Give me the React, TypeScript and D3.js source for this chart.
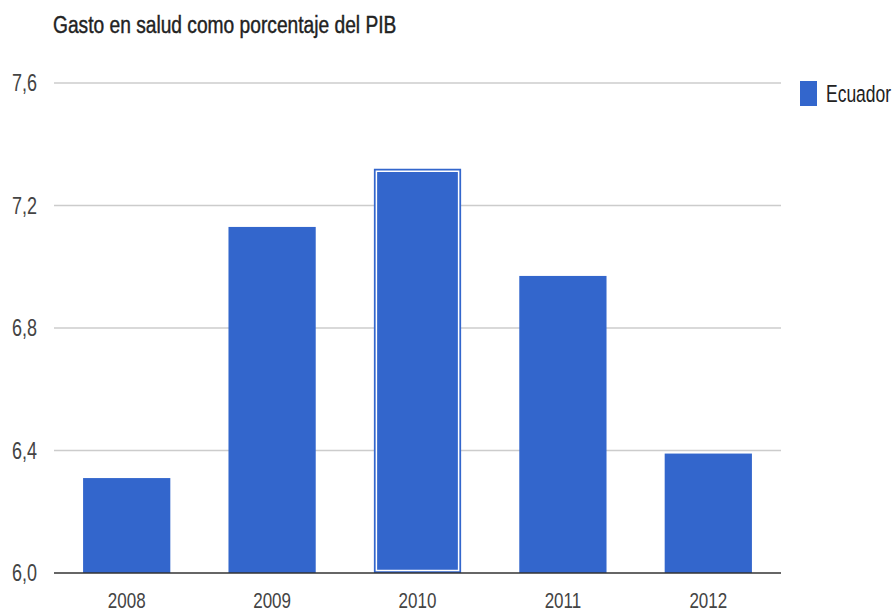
import React from "react";
import * as d3 from "d3";

const years = ["2008", "2009", "2010", "2011", "2012"];
const values = [6.31, 7.13, 7.32, 6.97, 6.39];
const yTicks = [6.0, 6.4, 6.8, 7.2, 7.6];
const title = "Gasto en salud como porcentaje del PIB";
const seriesName = "Ecuador";

const W = 893;
const H = 614;
const left = 54;
const right = 781;
const top = 83;
const bottom = 573;
const BAR = "#3366cc";
const FONT = "'Liberation Sans', Arial, sans-serif";

export default function App() {
  const x = d3.scaleBand<string>().domain(years).range([left, right]).paddingInner(0.4).paddingOuter(0.2);
  const y = d3.scaleLinear().domain([6.0, 7.6]).range([bottom, top]);
  const fmt = (v: number) => v.toFixed(1).replace(".", ",");

  return (
    <svg width={W} height={H} style={{ position: "absolute", left: 0, top: 0, background: "#fff" }}>
      <g transform={`translate(53,33) scale(1,1.2)`}>
        <text x={0} y={0} fontFamily={FONT} fontSize={19.2} fill="#222" stroke="#222" strokeWidth={0.35}>{title}</text>
      </g>
      {yTicks.map((t) => (
        <g key={t}>
          {t !== 6.0 && (
            <line x1={left} x2={right} y1={y(t)} y2={y(t)} stroke="#cccccc" strokeWidth={1.5} />
          )}
          <g transform={`translate(37,${y(t) + 8}) scale(1,1.3)`}>
            <text x={0} y={0} textAnchor="end" fontFamily={FONT} fontSize={18} fill="#444">{fmt(t)}</text>
          </g>
        </g>
      ))}
      {years.map((yr, i) => {
        const bx = x(yr)!;
        const bw = x.bandwidth();
        const by = y(values[i]);
        const bh = bottom - by;
        return (
          <g key={yr}>
            <rect x={bx} y={by} width={bw} height={bh} fill={BAR} />
            {yr === "2010" && (
              <rect x={bx + 2.5} y={by + 2.5} width={bw - 5} height={bh - 5} fill="none" stroke="#ffffff" strokeWidth={1.5} />
            )}
            <g transform={`translate(${bx + bw / 2},${bottom + 35}) scale(1,1.35)`}>
              <text x={0} y={0} textAnchor="middle" fontFamily={FONT} fontSize={17} fill="#444">{yr}</text>
            </g>
          </g>
        );
      })}
      <line x1={left} x2={right} y1={bottom} y2={bottom} stroke="#333" strokeWidth={1.5} />
      <rect x={800} y={81} width={17} height={25} fill={BAR} />
      <g transform={`translate(826,102) scale(1,1.4)`}>
        <text x={0} y={0} fontFamily={FONT} fontSize={17.5} fill="#222">{seriesName}</text>
      </g>
    </svg>
  );
}
